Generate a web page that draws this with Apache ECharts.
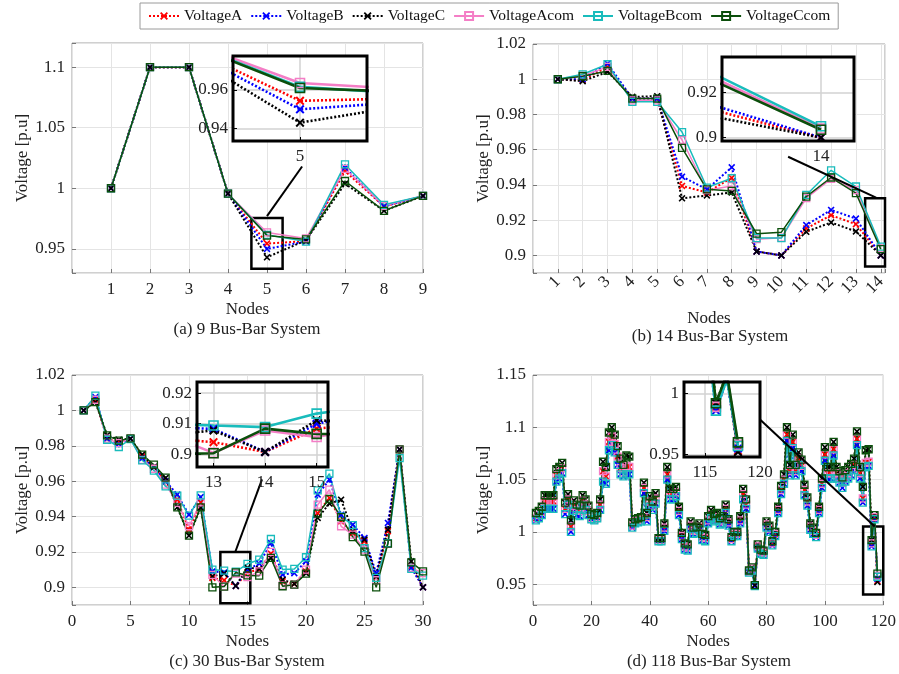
<!DOCTYPE html>
<html>
<head>
<meta charset="utf-8">
<title>Bus-bar voltage profiles</title>
<script src="https://cdn.jsdelivr.net/npm/echarts@6/dist/echarts.min.js"></script>
<style>
  html, body { margin: 0; padding: 0; background: #fff; }
  #chart { width: 899px; height: 674px; }
</style>
</head>
<body>
<div id="chart"></div>
<script>
(function () {
    'use strict';

    // legend order = drawing order
    var seriesNames = ['VoltageA', 'VoltageB', 'VoltageC', 'VoltageAcom', 'VoltageBcom', 'VoltageCcom'];

    // (a) 9 bus-bar system, nodes 1..9
    var bus9A = [1.0, 1.1, 1.1, 0.9955, 0.9543, 0.9563, 1.0142, 0.985, 0.9937];
    var bus9B = [1.0, 1.1, 1.1, 0.9955, 0.9499, 0.9560, 1.0170, 0.985, 0.9937];
    var bus9C = [1.0, 1.1, 1.1, 0.9955, 0.9430, 0.9570, 1.0038, 0.9814, 0.9937];
    var bus9Acom = [1.0, 1.1, 1.1, 0.9955, 0.9635, 0.9585, 1.0160, 0.9855, 0.9937];
    var bus9Bcom = [1.0, 1.1, 1.1, 0.9955, 0.9615, 0.9560, 1.0197, 0.9863, 0.9937];
    var bus9Ccom = [1.0, 1.1, 1.1, 0.9955, 0.9609, 0.9577, 1.0060, 0.9814, 0.9937];

    // (b) 14 bus-bar system
    var bus14A = [1.0, 0.9995, 1.007, 0.989, 0.989, 0.9394, 0.9357, 0.944, 0.9022, 0.900, 0.9153, 0.9228, 0.9177, 0.900];
    var bus14B = [1.0, 1.000, 1.0089, 0.989, 0.989, 0.9447, 0.9375, 0.950, 0.9022, 0.900, 0.9172, 0.9258, 0.9209, 0.900];
    var bus14C = [1.0, 0.9989, 1.0042, 0.990, 0.9904, 0.9324, 0.934, 0.9357, 0.9022, 0.900, 0.9134, 0.9187, 0.9136, 0.900];
    var bus14Acom = [1.0, 1.002, 1.007, 0.988, 0.988, 0.9655, 0.937, 0.9394, 0.9092, 0.910, 0.9325, 0.9434, 0.937, 0.904];
    var bus14Bcom = [1.0, 1.0028, 1.0085, 0.9872, 0.9872, 0.970, 0.9385, 0.9438, 0.9098, 0.9098, 0.9343, 0.9483, 0.9391, 0.905];
    var bus14Ccom = [1.0, 1.0017, 1.0047, 0.989, 0.989, 0.961, 0.9375, 0.9366, 0.9123, 0.9132, 0.9334, 0.9442, 0.9353, 0.9035];

    // (c) 30 bus-bar system
    var bus30A = [1.0, 1.006, 0.984, 0.982, 0.984, 0.974, 0.968, 0.960, 0.9495, 0.9326,
        0.948, 0.9053, 0.904, 0.9008, 0.9084, 0.910, 0.919, 0.9034, 0.902, 0.909,
        0.942, 0.9505, 0.9373, 0.9307, 0.926, 0.906, 0.9317, 0.978, 0.912, 0.900];
    var bus30B = [1.0, 1.0075, 0.984, 0.981, 0.984, 0.973, 0.968, 0.960, 0.9524, 0.941,
        0.951, 0.909, 0.9083, 0.9008, 0.910, 0.9134, 0.925, 0.9072, 0.908, 0.9147,
        0.9524, 0.9608, 0.941, 0.9354, 0.9279, 0.908, 0.9364, 0.978, 0.911, 0.900];
    var bus30C = [1.0, 1.0047, 0.9859, 0.9834, 0.984, 0.975, 0.968, 0.9618, 0.9452, 0.9292,
        0.945, 0.9062, 0.9078, 0.9008, 0.9111, 0.9104, 0.9166, 0.9043, 0.902, 0.908,
        0.9392, 0.9473, 0.9495, 0.9317, 0.927, 0.9062, 0.9326, 0.978, 0.9147, 0.900];
    var bus30Acom = [1.0, 1.006, 0.984, 0.9815, 0.984, 0.972, 0.967, 0.958, 0.9477, 0.9345,
        0.948, 0.907, 0.9005, 0.9078, 0.9057, 0.909, 0.920, 0.901, 0.9015, 0.910,
        0.9467, 0.9552, 0.9345, 0.9298, 0.9213, 0.904, 0.9247, 0.978, 0.911, 0.908];
    var bus30Bcom = [1.0, 1.0083, 0.9834, 0.9793, 0.9838, 0.9718, 0.966, 0.957, 0.9518, 0.9405,
        0.952, 0.910, 0.9094, 0.9089, 0.9133, 0.9156, 0.9273, 0.910, 0.9104, 0.917,
        0.9548, 0.9642, 0.940, 0.9352, 0.9222, 0.9053, 0.925, 0.973, 0.9104, 0.9066];
    var bus30Ccom = [1.0, 1.0047, 0.9859, 0.9829, 0.9842, 0.975, 0.9693, 0.962, 0.9452, 0.9292,
        0.9452, 0.900, 0.9004, 0.9084, 0.9067, 0.9066, 0.9166, 0.9006, 0.9015, 0.9077,
        0.9416, 0.9499, 0.9397, 0.9284, 0.9202, 0.900, 0.9247, 0.978, 0.9141, 0.909];

    // (d) 118 bus-bar system
    var bus118A = [
        1.013, 1.016, 1.019, 1.029, 1.029, 1.029, 1.029, 1.054, 1.057, 1.061,
        1.022, 1.031, 1.005, 1.025, 1.021, 1.020, 1.030, 1.026, 1.020, 1.013,
        1.012, 1.014, 1.026, 1.058, 1.053, 1.086, 1.091, 1.084, 1.072, 1.061,
        1.057, 1.063, 1.062, 1.006, 1.010, 1.011, 1.012, 1.042, 1.014, 1.029,
        1.025, 1.032, 0.992, 0.992, 1.004, 1.055, 1.035, 1.035, 1.038, 1.020,
        0.996, 0.986, 0.985, 1.006, 1.001, 1.002, 1.005, 0.995, 0.994, 1.011,
        1.017, 1.013, 1.014, 1.010, 1.011, 1.022, 1.009, 0.993, 0.998, 0.998,
        1.011, 1.036, 1.026, 0.962, 0.965, 0.949, 0.986, 0.981, 0.980, 1.007,
        1.003, 0.989, 0.998, 1.021, 1.040, 1.050, 1.093, 1.058, 1.086, 1.058,
        1.070, 1.063, 1.040, 1.029, 1.005, 1.001, 0.997, 1.021, 1.046, 1.074,
        1.056, 1.056, 1.079, 1.056, 1.052, 1.047, 1.053, 1.056, 1.059, 1.064,
        1.089, 1.056, 1.032, 1.066, 1.067, 0.989, 1.014, 0.953];
    var bus118B = [
        1.011, 1.013, 1.016, 1.022, 1.022, 1.022, 1.022, 1.048, 1.051, 1.056,
        1.017, 1.026, 1.000, 1.020, 1.016, 1.015, 1.025, 1.021, 1.016, 1.012,
        1.011, 1.013, 1.021, 1.048, 1.046, 1.078, 1.083, 1.076, 1.064, 1.055,
        1.053, 1.055, 1.055, 1.004, 1.008, 1.009, 1.010, 1.037, 1.010, 1.024,
        1.021, 1.027, 0.991, 0.991, 1.001, 1.050, 1.031, 1.031, 1.034, 1.016,
        0.993, 0.983, 0.982, 1.003, 0.998, 0.999, 1.002, 0.992, 0.991, 1.008,
        1.013, 1.010, 1.011, 1.007, 1.008, 1.018, 1.006, 0.991, 0.996, 0.996,
        1.008, 1.031, 1.022, 0.961, 0.963, 0.948, 0.984, 0.979, 0.978, 1.004,
        1.000, 0.987, 0.996, 1.018, 1.036, 1.046, 1.087, 1.054, 1.080, 1.054,
        1.064, 1.058, 1.035, 1.025, 1.002, 0.998, 0.995, 1.018, 1.042, 1.068,
        1.051, 1.051, 1.073, 1.051, 1.047, 1.042, 1.048, 1.051, 1.054, 1.059,
        1.083, 1.051, 1.028, 1.062, 1.063, 0.986, 1.012, 0.955];
    var bus118C = [
        1.018, 1.020, 1.024, 1.035, 1.035, 1.035, 1.035, 1.060, 1.062, 1.066,
        1.028, 1.036, 1.011, 1.030, 1.026, 1.025, 1.035, 1.031, 1.025, 1.017,
        1.016, 1.018, 1.031, 1.067, 1.062, 1.095, 1.100, 1.093, 1.082, 1.070,
        1.064, 1.073, 1.072, 1.009, 1.012, 1.013, 1.014, 1.047, 1.018, 1.034,
        1.029, 1.037, 0.994, 0.994, 1.008, 1.062, 1.041, 1.041, 1.043, 1.024,
        0.999, 0.989, 0.988, 1.010, 1.004, 1.005, 1.008, 0.998, 0.997, 1.015,
        1.021, 1.017, 1.018, 1.013, 1.015, 1.026, 1.012, 0.995, 1.000, 1.000,
        1.015, 1.041, 1.031, 0.963, 0.966, 0.949, 0.988, 0.983, 0.982, 1.010,
        1.006, 0.991, 1.000, 1.024, 1.044, 1.055, 1.100, 1.064, 1.093, 1.064,
        1.076, 1.069, 1.045, 1.033, 1.008, 1.004, 0.999, 1.024, 1.051, 1.081,
        1.062, 1.062, 1.086, 1.062, 1.058, 1.052, 1.059, 1.062, 1.065, 1.070,
        1.096, 1.062, 1.043, 1.078, 1.079, 0.992, 1.016, 0.952];
    var bus118Acom = [
        1.013, 1.016, 1.019, 1.029, 1.029, 1.029, 1.029, 1.054, 1.057, 1.061,
        1.022, 1.031, 1.005, 1.025, 1.021, 1.020, 1.030, 1.026, 1.020, 1.013,
        1.012, 1.014, 1.026, 1.058, 1.053, 1.086, 1.091, 1.084, 1.072, 1.061,
        1.057, 1.063, 1.062, 1.006, 1.010, 1.011, 1.012, 1.042, 1.014, 1.029,
        1.025, 1.032, 0.992, 0.992, 1.004, 1.055, 1.035, 1.035, 1.038, 1.020,
        0.996, 0.986, 0.985, 1.006, 1.001, 1.002, 1.005, 0.995, 0.994, 1.011,
        1.017, 1.013, 1.014, 1.010, 1.011, 1.022, 1.009, 0.993, 0.998, 0.998,
        1.011, 1.036, 1.026, 0.962, 0.965, 0.949, 0.986, 0.981, 0.980, 1.007,
        1.003, 0.989, 0.998, 1.021, 1.040, 1.050, 1.093, 1.058, 1.086, 1.058,
        1.070, 1.063, 1.040, 1.029, 1.005, 1.001, 0.997, 1.021, 1.046, 1.074,
        1.056, 1.056, 1.079, 1.056, 1.052, 1.047, 1.053, 1.056, 1.059, 1.064,
        1.089, 1.056, 1.032, 1.066, 1.067, 0.989, 1.014, 0.958];
    var bus118Bcom = [
        1.011, 1.013, 1.016, 1.022, 1.022, 1.022, 1.022, 1.048, 1.051, 1.056,
        1.017, 1.026, 1.000, 1.020, 1.016, 1.015, 1.025, 1.021, 1.016, 1.012,
        1.011, 1.013, 1.021, 1.048, 1.046, 1.078, 1.083, 1.076, 1.064, 1.055,
        1.053, 1.055, 1.055, 1.004, 1.008, 1.009, 1.010, 1.037, 1.010, 1.024,
        1.021, 1.027, 0.991, 0.991, 1.001, 1.050, 1.031, 1.031, 1.034, 1.016,
        0.993, 0.983, 0.982, 1.003, 0.998, 0.999, 1.002, 0.992, 0.991, 1.008,
        1.013, 1.010, 1.011, 1.007, 1.008, 1.018, 1.006, 0.991, 0.996, 0.996,
        1.008, 1.031, 1.022, 0.961, 0.963, 0.948, 0.984, 0.979, 0.978, 1.004,
        1.000, 0.987, 0.996, 1.018, 1.036, 1.046, 1.087, 1.054, 1.080, 1.054,
        1.064, 1.058, 1.035, 1.025, 1.002, 0.998, 0.995, 1.018, 1.042, 1.068,
        1.051, 1.051, 1.073, 1.051, 1.047, 1.042, 1.048, 1.051, 1.054, 1.059,
        1.083, 1.051, 1.028, 1.062, 1.063, 0.986, 1.012, 0.957];
    var bus118Ccom = [
        1.018, 1.020, 1.024, 1.035, 1.035, 1.035, 1.035, 1.060, 1.062, 1.066,
        1.028, 1.036, 1.011, 1.030, 1.026, 1.025, 1.035, 1.031, 1.025, 1.017,
        1.016, 1.018, 1.031, 1.067, 1.062, 1.095, 1.100, 1.093, 1.082, 1.070,
        1.064, 1.073, 1.072, 1.009, 1.012, 1.013, 1.014, 1.047, 1.018, 1.034,
        1.029, 1.037, 0.994, 0.994, 1.008, 1.062, 1.041, 1.041, 1.043, 1.024,
        0.999, 0.989, 0.988, 1.010, 1.004, 1.005, 1.008, 0.998, 0.997, 1.015,
        1.021, 1.017, 1.018, 1.013, 1.015, 1.026, 1.012, 0.995, 1.000, 1.000,
        1.015, 1.041, 1.031, 0.963, 0.966, 0.949, 0.988, 0.983, 0.982, 1.010,
        1.006, 0.991, 1.000, 1.024, 1.044, 1.055, 1.100, 1.064, 1.093, 1.064,
        1.076, 1.069, 1.045, 1.033, 1.008, 1.004, 0.999, 1.024, 1.051, 1.081,
        1.062, 1.062, 1.086, 1.062, 1.058, 1.052, 1.059, 1.062, 1.065, 1.070,
        1.096, 1.062, 1.043, 1.078, 1.079, 0.992, 1.016, 0.960];

    var font = 'Liberation Serif';
    var crossPath = 'path://M0,1.6L1.6,0L5,3.4L8.4,0L10,1.6L6.6,5L10,8.4L8.4,10L5,6.6L1.6,10L0,8.4L3.4,5Z';

    var looks = [
        { color: '#ff0000', dotted: true },
        { color: '#0000ff', dotted: true },
        { color: '#000000', dotted: true },
        { color: '#f47ec6', dotted: false },
        { color: '#19bcbc', dotted: false },
        { color: '#0b4f0b', dotted: false }
    ];

    // layout of each panel, its zoomed inset and the marker box/link in data units
    var panels = [
        {
            values: [bus9A, bus9B, bus9C, bus9Acom, bus9Bcom, bus9Ccom],
            grid: { left: 72, top: 43, width: 351, height: 230 },
            x: [0, 9, 1], y: [0.93, 1.12, 0.05], hideZero: true, rotate: 0, nameGap: 28,
            caption: '(a) 9 Bus-Bar System', capPos: [247, 330],
            inset: { left: 233, top: 56, width: 134, height: 85 },
            ix: [4.6, 5.4, 1], iy: [0.9335, 0.9775, 0.02],
            box: [[4.6, 0.9335], [5.4, 0.9755]], link: [[5.9, 1.018], [5.0, 0.977]]
        },
        {
            values: [bus14A, bus14B, bus14C, bus14Acom, bus14Bcom, bus14Ccom],
            grid: { left: 533, top: 44, width: 352, height: 229 },
            x: [0, 14.17, 1], y: [0.89, 1.02, 0.02], hideZero: true, rotate: 45, nameGap: 37,
            caption: '(b) 14 Bus-Bar System', capPos: [710, 337],
            inset: { left: 722, top: 57, width: 132, height: 84 },
            ix: [13.37, 14.21, 1], iy: [0.8985, 0.9357, 0.02],
            box: [[13.37, 0.8937], [14.17, 0.9324]], link: [[10.27, 0.956], [13.81, 0.9328]]
        },
        {
            values: [bus30A, bus30B, bus30C, bus30Acom, bus30Bcom, bus30Ccom],
            grid: { left: 72, top: 375, width: 351, height: 230 },
            x: [0, 30, 5], y: [0.89, 1.02, 0.02], hideZero: false, rotate: 0, nameGap: 28,
            caption: '(c) 30 Bus-Bar System', capPos: [247, 662],
            inset: { left: 197, top: 382, width: 131, height: 85 },
            ix: [12.68, 15.22, 1], iy: [0.8959, 0.9236, 0.01],
            box: [[12.68, 0.891], [15.24, 0.920]], link: [[16.24, 0.961], [13.96, 0.9201]]
        },
        {
            values: [bus118A, bus118B, bus118C, bus118Acom, bus118Bcom, bus118Ccom],
            grid: { left: 533, top: 375, width: 352, height: 230 },
            x: [0, 120, 20], y: [0.93, 1.15, 0.05], hideZero: false, rotate: 0, nameGap: 28,
            caption: '(d) 118 Bus-Bar System', capPos: [709, 662],
            inset: { left: 684, top: 382, width: 76, height: 75 },
            ix: [113.1, 120, 5], iy: [0.948, 1.0094, 0.05],
            box: [[113.1, 0.94], [120, 1.005]], link: [[77.3, 1.1087], [117.1, 1.005]]
        }
    ];

    function tickFormatter(step, hideZero) {
        return function (v) {
            var k = Math.round(v / step);
            if (Math.abs(v - k * step) > step * 1e-6) {
                return '';
            }
            if (hideZero && k === 0) {
                return '';
            }
            return String(+(k * step).toFixed(4));
        };
    }

    function valueAxis(gridIndex, range, hideZero, extra) {
        var axis = {
            type: 'value',
            gridIndex: gridIndex,
            min: range[0],
            max: range[1],
            minInterval: range[2],
            maxInterval: range[2],
            splitNumber: Math.max(1, Math.round((range[1] - range[0]) / range[2])),
            axisLine: { show: false },
            axisTick: { show: true, inside: true, length: 4, lineStyle: { color: '#777' } },
            axisLabel: {
                formatter: tickFormatter(range[2], hideZero),
                fontFamily: font, fontSize: 17, color: '#222', margin: 7,
                showMinLabel: true, showMaxLabel: true, hideOverlap: false
            },
            splitLine: { show: true, lineStyle: { color: '#e4e4e4', width: 1 } }
        };
        for (var key in extra) {
            if (extra.hasOwnProperty(key)) {
                axis[key] = extra[key];
            }
        }
        return axis;
    }

    function makeSeries(k, values, axisIndex, inset) {
        var look = looks[k];
        var points = values.map(function (v, i) { return [i + 1, v]; });
        return {
            name: seriesNames[k],
            type: 'line',
            data: points,
            xAxisIndex: axisIndex,
            yAxisIndex: axisIndex,
            z: inset ? 12 : 2,
            clip: true,
            symbol: look.dotted ? crossPath : 'rect',
            symbolSize: inset ? 9 : 7,
            showSymbol: true,
            lineStyle: {
                color: look.color,
                width: look.dotted ? (inset ? 2.6 : 2) : (inset ? 2.6 : 1.5),
                type: look.dotted ? [2, 2] : 'solid'
            },
            itemStyle: look.dotted ?
                { color: look.color, borderWidth: 0 } :
                { color: 'rgba(255,255,255,0)', borderColor: look.color, borderWidth: inset ? 1.6 : 1.3 },
            emphasis: { disabled: true },
            animation: false
        };
    }

    var grids = [], xAxes = [], yAxes = [], series = [], graphics = [];

    panels.forEach(function (p) {
        // main panel
        var gi = grids.length;
        grids.push({
            left: p.grid.left, top: p.grid.top, width: p.grid.width, height: p.grid.height,
            show: true, borderColor: '#a0a0a0', borderWidth: 1, backgroundColor: '#fff'
        });
        var xa = valueAxis(gi, p.x, p.hideZero, {
            name: 'Nodes', nameLocation: 'middle', nameGap: p.nameGap,
            nameTextStyle: { fontFamily: font, fontSize: 17, color: '#222' }
        });
        xa.axisLabel.rotate = p.rotate;
        xa.axisLabel.margin = p.rotate ? 6 : 8;
        xAxes.push(xa);
        yAxes.push(valueAxis(gi, p.y, false, {
            name: 'Voltage [p.u]', nameLocation: 'middle', nameGap: 38,
            nameTextStyle: { fontFamily: font, fontSize: 17, color: '#222' }
        }));
        p.values.forEach(function (vals, k) {
            var s = makeSeries(k, vals, gi, false);
            if (k === 5) {
                s.markArea = {
                    silent: true,
                    itemStyle: { color: 'rgba(0,0,0,0)', borderColor: '#000', borderWidth: 2.5 },
                    data: [[{ coord: p.box[0] }, { coord: p.box[1] }]]
                };
                s.markLine = {
                    silent: true,
                    symbol: ['none', 'none'],
                    label: { show: false },
                    lineStyle: { color: '#000', width: 2, type: 'solid' },
                    data: [[{ coord: p.link[0] }, { coord: p.link[1] }]]
                };
            }
            series.push(s);
        });

        // zoomed inset
        var ii = grids.length;
        grids.push({
            left: p.inset.left, top: p.inset.top, width: p.inset.width, height: p.inset.height,
            show: true, borderWidth: 0, backgroundColor: '#fff', z: 10
        });
        var ixa = valueAxis(ii, p.ix, false, { z: 11 });
        ixa.axisTick.lineStyle.color = '#000';
        ixa.splitLine.lineStyle = { color: '#d2d2d2', width: 1.5 };
        xAxes.push(ixa);
        var iya = valueAxis(ii, p.iy, false, { z: 11 });
        iya.axisTick.lineStyle.color = '#000';
        iya.axisLabel.margin = 5;
        iya.splitLine.lineStyle = { color: '#d2d2d2', width: 1.5 };
        yAxes.push(iya);
        p.values.forEach(function (vals, k) {
            series.push(makeSeries(k, vals, ii, true));
        });
        graphics.push({
            type: 'rect', z: 100, silent: true,
            shape: { x: p.inset.left, y: p.inset.top, width: p.inset.width, height: p.inset.height },
            style: { fill: 'none', stroke: '#000', lineWidth: 3 }
        });

        graphics.push({
            type: 'text', z: 100, silent: true,
            x: p.capPos[0], y: p.capPos[1],
            style: {
                text: p.caption, fontFamily: font, fontSize: 17, fill: '#222',
                textAlign: 'center', textVerticalAlign: 'middle'
            }
        });
    });

    var chart = echarts.init(document.getElementById('chart'), null, { renderer: 'canvas' });
    chart.setOption({
        animation: false,
        backgroundColor: '#fff',
        legend: {
            data: seriesNames,
            left: 140, top: 3,
            padding: [5, 8],
            itemGap: 8,
            itemWidth: 30,
            itemHeight: 10,
            borderColor: '#9a9a9a',
            borderWidth: 1,
            backgroundColor: '#fff',
            textStyle: { fontFamily: font, fontSize: 15.5, color: '#111' }
        },
        grid: grids,
        xAxis: xAxes,
        yAxis: yAxes,
        series: series,
        graphic: graphics
    });
})();
</script>
</body>
</html>
